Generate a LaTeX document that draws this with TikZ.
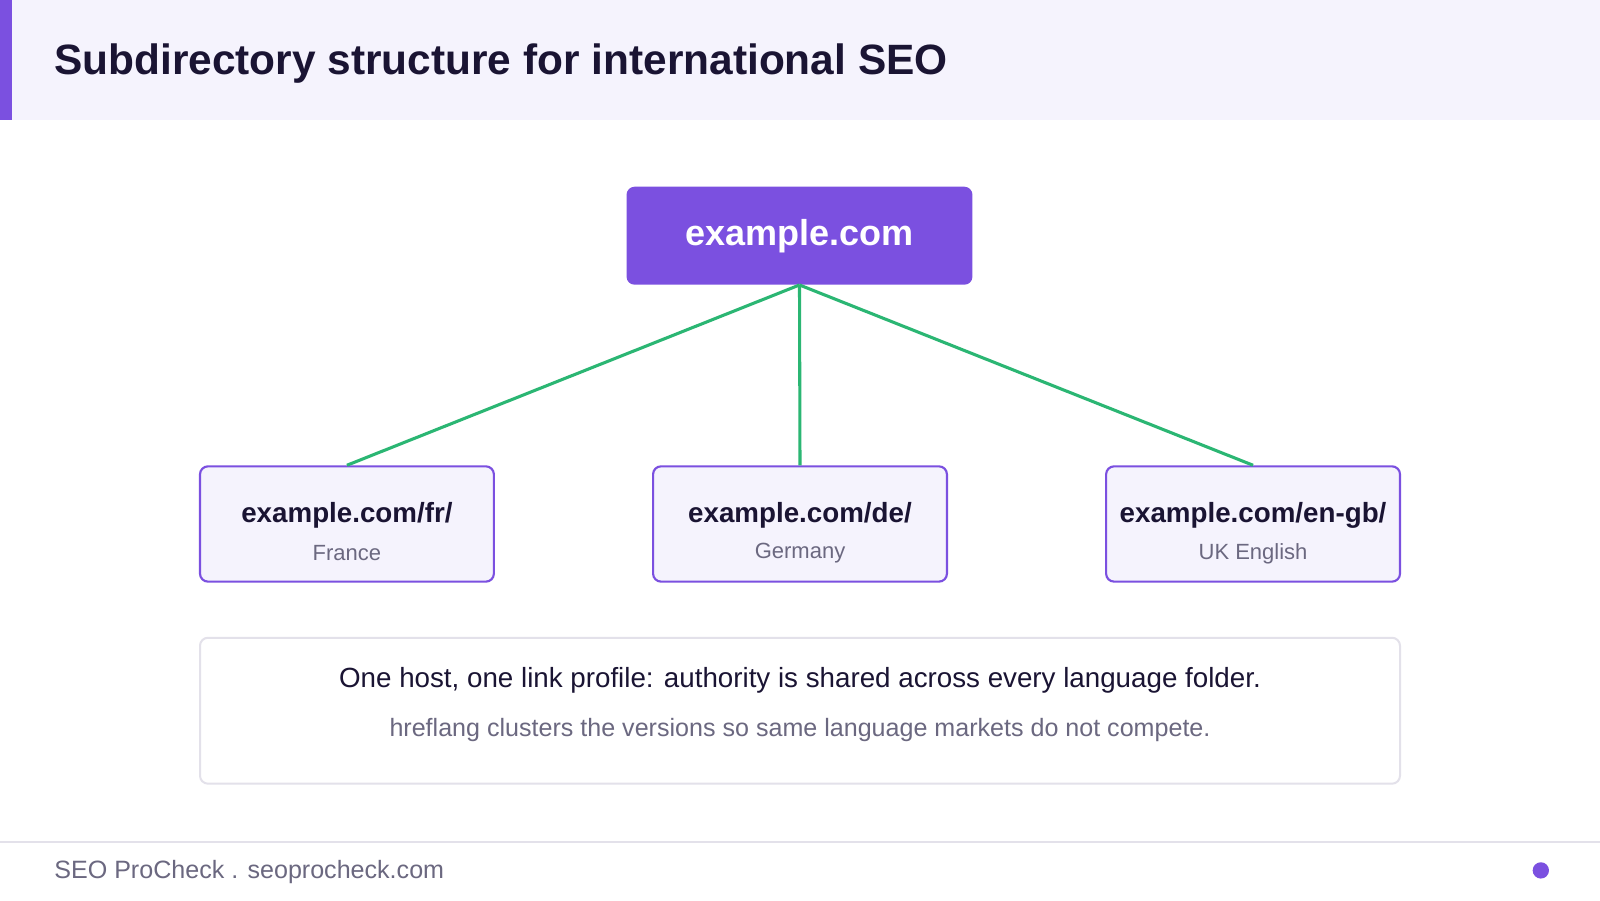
\documentclass[tikz,border=0pt]{standalone}
\usepackage{fontspec}
\setmainfont{Liberation Sans}
\definecolor{purp}{HTML}{7B50E0}
\definecolor{pale}{HTML}{F5F3FD}
\definecolor{dark}{HTML}{1A1433}
\definecolor{grayt}{HTML}{6B6880}
\definecolor{grn}{HTML}{2BB673}
\definecolor{bord}{HTML}{E3E1EA}
\begin{document}
\begin{tikzpicture}[x=0.765pt,y=-0.765pt,
 child/.style={draw=purp,line width=1.6pt,fill=pale,rounded corners=6pt,minimum width=288*0.765pt,minimum height=113*0.765pt},
 link/.style={draw=grn,line width=2.3pt}]
\useasboundingbox (0,0) rectangle (1568,882);
\fill[white] (0,0) rectangle (1568,882);
\fill[pale] (0,0) rectangle (1568,118);
\fill[purp] (0,0) rectangle (12,118);
\node[anchor=west,inner sep=0pt,text=dark,font=\bfseries\fontsize{31.8}{36}\selectfont] (title) at (53,62) {Subdirectory structure for international SEO};
\node[fill=purp,rounded corners=6pt,minimum width=339*0.765pt,minimum height=96*0.765pt,text=white,font=\bfseries\fontsize{27}{32}\selectfont] (root) at (783.5,231) {\raisebox{-2pt}{example.com}};
\node[child] (fr) at (340,513.5) {};
\node[child] (de) at (784,513.5) {};
\node[child] (gb) at (1228,513.5) {};
\foreach \n/\a/\b in {fr/fr/France,de/de/Germany,gb/en-gb/UK English}{
 \node[text=dark,font=\bfseries\fontsize{20.8}{24}\selectfont] (\n t) at ([yshift=6.5pt]\n.center) {example.com/\a/};
 \node[text=grayt,font=\fontsize{16.5}{20}\selectfont] (\n s) at ([yshift=-22pt]\n.center) {\b};
}
\draw[link] (root.south) -- (fr.north);
\draw[link] (root.south) -- (de.north);
\draw[link] (root.south) -- (gb.north);
\node[draw=bord,line width=1.5pt,rounded corners=6pt,minimum width=1176*0.765pt,minimum height=143*0.765pt] (note) at (784,696.5) {};
\node[text=dark,font=\fontsize{20.8}{25}\selectfont] (n1) at (784,667) {One host, one link profile: authority is shared across every language folder.};
\node[text=grayt,font=\fontsize{18.8}{22}\selectfont] (n2) at (784,715) {hreflang clusters the versions so same language markets do not compete.};
\draw[bord,line width=1.2pt] (0,825) -- (1568,825);
\node[anchor=west,inner sep=0pt,text=grayt,font=\fontsize{18.8}{22}\selectfont] (foot) at (53,855) {SEO ProCheck . seoprocheck.com};
\fill[purp] (1510,853) circle (8);
\end{tikzpicture}
\end{document}
